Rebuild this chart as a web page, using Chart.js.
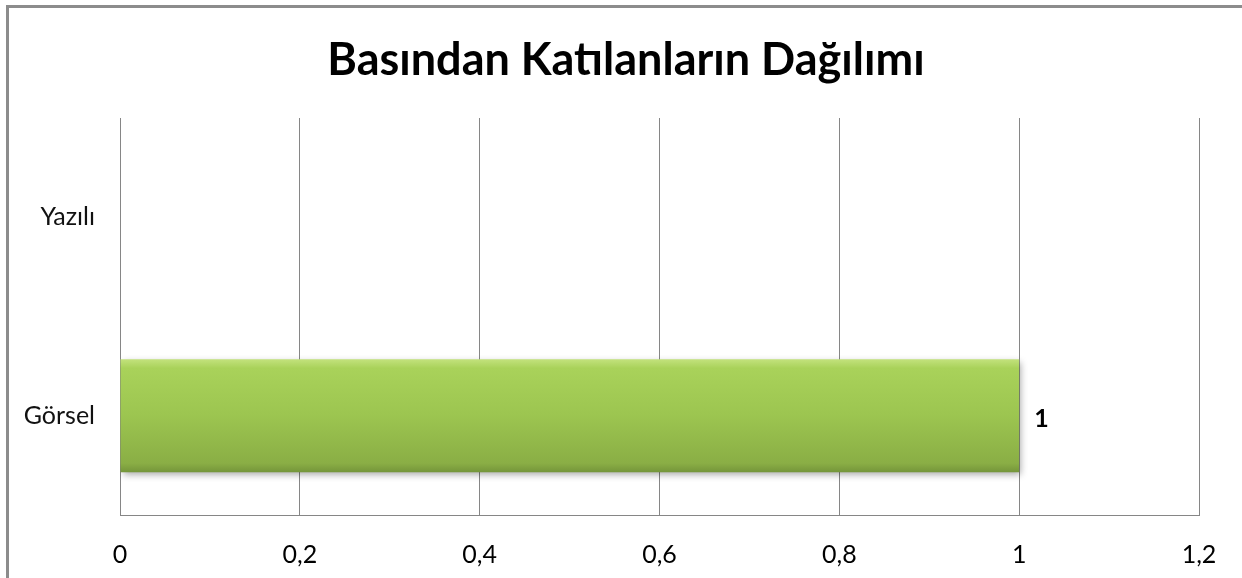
<!DOCTYPE html>
<html lang="tr">
<head>
  <meta charset="UTF-8">
  <title>Basından Katılanların Dağılımı</title>
  <script src="https://cdn.jsdelivr.net/npm/chart.js"></script>
  <style>
    html, body { margin: 0; padding: 0; background: #ffffff; }
    #wrap { width: 1242px; height: 578px; }
  </style>
</head>
<body>
  <div id="wrap"><canvas id="barChart" width="1242" height="578"></canvas></div>

  <script>
    // data
    const chartTitle = 'Basından Katılanların Dağılımı';
    const categories = ['Yazılı', 'Görsel'];
    const values = [0, 1];
    const xTicks = [0, 0.2, 0.4, 0.6, 0.8, 1, 1.2];

    const gridColor = '#868686';
    const barPct = 0.57;

    function fmt(v) {
      return parseFloat(v.toFixed(2)).toString().replace('.', ',');
    }

    // grey frame around the whole chart (top + left visible) and the title
    const framePlugin = {
      id: 'frame',
      beforeDraw(chart) {
        const ctx = chart.ctx;
        ctx.save();
        ctx.strokeStyle = '#8c8c8c';
        ctx.lineWidth = 3;
        ctx.strokeRect(7.5, 6.5, 1400, 800);
        ctx.font = 'bold 45px Lato';
        ctx.fillStyle = '#000000';
        ctx.textAlign = 'center';
        ctx.textBaseline = 'middle';
        ctx.fillText(chartTitle, 626, 60);
        ctx.restore();
      }
    };

    // soft shadow under the bars
    const shadowPlugin = {
      id: 'barShadow',
      beforeDatasetDraw(chart) {
        const ctx = chart.ctx;
        ctx.save();
        ctx.shadowColor = 'rgba(0,0,0,0.35)';
        ctx.shadowBlur = 7;
        ctx.shadowOffsetX = 2;
        ctx.shadowOffsetY = 3;
      },
      afterDatasetDraw(chart) {
        chart.ctx.restore();
      }
    };

    // value label at the end of each non-zero bar
    const labelPlugin = {
      id: 'valueLabels',
      afterDatasetsDraw(chart) {
        const ctx = chart.ctx;
        const meta = chart.getDatasetMeta(0);
        ctx.save();
        ctx.font = 'bold 25px Lato';
        ctx.fillStyle = '#000000';
        ctx.textAlign = 'left';
        ctx.textBaseline = 'middle';
        meta.data.forEach((bar, i) => {
          if (values[i] === 0) return;
          ctx.fillText(fmt(values[i]), bar.x + 15, bar.y + 3);
        });
        ctx.restore();
      }
    };

    function barFill(c) {
      const chart = c.chart;
      const ys = chart.scales.y;
      if (!chart.chartArea || !ys || c.dataIndex === undefined) return '#9bbb59';
      const cy = ys.getPixelForValue(c.dataIndex);
      const h = (chart.chartArea.bottom - chart.chartArea.top) / categories.length * barPct;
      if (!Number.isFinite(cy) || !Number.isFinite(h)) return '#9bbb59';
      const g = chart.ctx.createLinearGradient(0, cy - h / 2, 0, cy + h / 2);
      g.addColorStop(0, '#c3e27d');
      g.addColorStop(0.08, '#a9d25a');
      g.addColorStop(0.5, '#9cc550');
      g.addColorStop(0.92, '#8aae45');
      g.addColorStop(1, '#74953a');
      return g;
    }

    new Chart(document.getElementById('barChart'), {
      type: 'bar',
      data: {
        labels: categories,
        datasets: [{
          data: values,
          backgroundColor: barFill,
          borderWidth: 0,
          categoryPercentage: 1,
          barPercentage: barPct
        }]
      },
      plugins: [framePlugin, shadowPlugin, labelPlugin],
      options: {
        indexAxis: 'y',
        responsive: false,
        animation: false,
        layout: { padding: { left: 10, right: 43, top: 118, bottom: 0 } },
        plugins: {
          legend: { display: false },
          tooltip: { enabled: false },
          title: { display: false }
        },
        scales: {
          x: {
            min: 0,
            max: 1.2,
            afterBuildTicks(axis) {
              axis.ticks = xTicks.map(v => ({ value: v }));
            },
            afterFit(axis) { axis.height = 63; },
            grid: { color: gridColor, lineWidth: 1, drawTicks: false },
            border: { display: true, color: gridColor, width: 1 },
            ticks: {
              color: '#000000',
              font: { family: 'Lato', size: 25 },
              padding: 25,
              callback: (v) => fmt(v)
            }
          },
          y: {
            afterFit(axis) { axis.width = 110; },
            grid: { display: false, drawTicks: false },
            border: { display: true, color: gridColor, width: 1 },
            ticks: {
              color: '#111111',
              font: { family: 'Lato', size: 25 },
              padding: 25
            }
          }
        }
      }
    });
  </script>
</body>
</html>
